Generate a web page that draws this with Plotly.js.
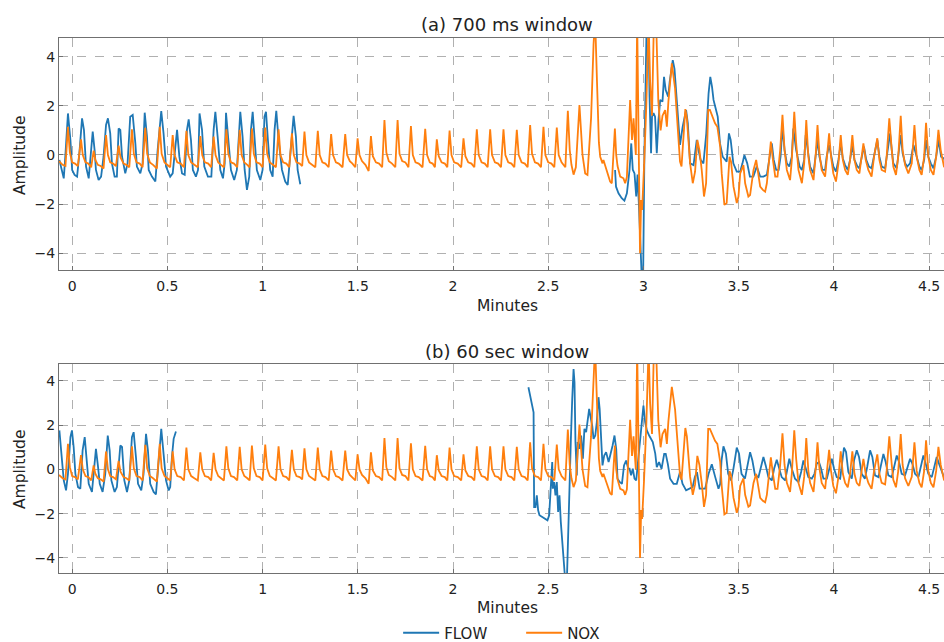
<!DOCTYPE html>
<html>
<head>
<meta charset="utf-8">
<script src="https://cdn.plot.ly/plotly-3.0.1.min.js"></script>
<style>
html,body{margin:0;padding:0;overflow:hidden;background:#fff;}
#chart{width:960px;height:642px;}
</style>
</head>
<body>
<div id="chart"></div>
<script>
// ---- NOX (shared by both panels), minutes / amplitude ----
const noxMin = [
-0.069,-0.05,-0.035,
-0.022,-0.012,0.0,0.015,0.03,
0.0465,0.056,0.07,0.085,0.1,
0.113,0.122,0.135,0.15,0.165,
0.178,0.188,0.2,0.215,0.23,
0.244,0.254,0.27,0.285,0.3,
0.314,0.324,0.338,0.355,0.37,
0.384,0.394,0.408,0.425,0.445,
0.46,0.47,0.485,0.5,0.515,
0.528,0.538,0.552,0.57,0.587,
0.6,0.61,0.625,0.642,0.66,
0.673,0.683,0.697,0.715,0.73,
0.743,0.753,0.767,0.782,0.797,
0.81,0.82,0.834,0.85,0.867,
0.88,0.89,0.904,0.92,0.932,
0.944,0.954,0.968,0.985,1.0,
1.014,1.024,1.038,1.055,1.07,
1.084,1.094,1.108,1.125,1.14,
1.154,1.164,1.178,1.195,1.208,
1.22,1.23,1.244,1.26,1.277,
1.29,1.3,1.314,1.33,1.347,
1.36,1.37,1.385,1.4,1.42,
1.434,1.444,1.458,1.472,1.487,
1.499,1.509,1.522,1.54,1.557,
1.569,1.579,1.595,1.612,1.628,
1.64,1.65,1.663,1.68,1.697,
1.709,1.719,1.733,1.75,1.766,
1.779,1.789,1.803,1.82,1.84,
1.854,1.864,1.878,1.893,1.905,
1.915,1.925,1.94,1.957,1.97,
1.982,1.992,2.006,2.025,2.043,
2.055,2.065,2.08,2.097,2.112,
2.125,2.135,2.15,2.167,2.182,
2.195,2.205,2.22,2.237,2.252,
2.265,2.275,2.29,2.307,2.322,
2.335,2.345,2.36,2.377,2.392,
2.405,2.415,2.43,2.447,2.462,
2.475,2.485,2.5,2.517,2.532,
2.545,2.555,2.57,2.59,
2.603,2.613,2.622,2.633,2.645,
2.664,2.68,2.694,2.706,2.725,
2.738,2.746,2.756,2.766,2.773,
2.785,2.79,2.8,2.815,2.825,2.834,
2.85,2.857,2.864,2.878,2.895,2.904,2.913,
2.93,2.94,2.948,2.955,2.96,2.967,2.975,2.982,2.988,2.993,
3.003,3.015,3.027,3.035,3.045,3.055,3.068,3.078,3.09,3.1,
3.114,3.123,3.131,3.149,3.166,3.179,3.192,3.2,
3.22,3.228,3.245,3.259,3.271,3.283,3.294,3.306,3.318,3.329,
3.34,3.349,3.358,3.376,3.388,3.403,3.411,3.425,3.437,
3.452,3.46,3.473,3.49,3.499,3.508,3.525,3.534,3.551,3.56,
3.578,3.592,3.601,3.613,3.627,3.639,3.648,
3.66,3.669,3.68,3.692,3.704,
3.718,3.73,3.741,3.753,3.77,
3.779,3.792,3.802,3.814,3.832,
3.844,3.855,3.866,3.875,3.893,
3.905,3.914,3.924,3.936,3.954,
3.962,3.975,3.985,3.997,4.011,
4.024,4.036,4.047,4.059,4.073,
4.085,4.097,4.108,4.12,4.134,
4.146,4.155,4.167,4.181,4.198,
4.211,4.228,4.239,4.251,4.269,
4.277,4.291,4.304,4.312,4.326,
4.338,4.351,4.361,4.374,4.391,
4.409,4.423,4.435,4.449,4.461,
4.474,4.484,4.496,4.509,4.523,
4.537,4.549,4.561,4.578,4.595,
4.61,4.618,4.63,4.64
];
const noxAmp = [
-0.25,-0.4,-0.45,
1.15,0.1,-0.3,-0.35,-0.45,
0.64,0.0,-0.3,-0.35,-0.5,
0.18,-0.2,-0.4,-0.45,-0.55,
0.81,0.0,-0.3,-0.35,-0.45,
0.38,-0.1,-0.35,-0.4,-0.5,
1.04,0.05,-0.3,-0.35,-0.5,
1.11,0.05,-0.3,-0.4,-0.55,
1.15,0.05,-0.3,-0.4,-0.5,
0.81,0.0,-0.3,-0.35,-0.5,
0.98,0.0,-0.3,-0.4,-0.5,
0.77,0.0,-0.3,-0.35,-0.5,
0.75,0.0,-0.3,-0.4,-0.5,
1.04,0.05,-0.3,-0.35,-0.5,
1.02,0.0,-0.3,-0.4,-0.5,
1.08,0.05,-0.3,-0.35,-0.5,
1.12,0.05,-0.3,-0.4,-0.5,
1.04,0.0,-0.3,-0.35,-0.5,
0.88,0.0,-0.3,-0.35,-0.45,
0.95,0.0,-0.3,-0.4,-0.5,
0.98,0.0,-0.3,-0.35,-0.5,
0.85,0.0,-0.3,-0.35,-0.5,
0.85,0.0,-0.25,-0.35,-0.5,
0.68,0.0,-0.25,-0.4,-0.65,
0.77,-0.05,-0.3,-0.35,-0.5,
1.42,0.1,-0.25,-0.35,-0.5,
1.42,0.05,-0.25,-0.3,-0.5,
1.18,0.0,-0.3,-0.35,-0.5,
1.07,0.0,-0.3,-0.35,-0.5,
0.64,-0.05,-0.3,-0.35,-0.5,
0.99,0.0,-0.3,-0.35,-0.5,
0.68,-0.05,-0.3,-0.35,-0.5,
1.04,0.0,-0.3,-0.35,-0.5,
1.04,0.0,-0.3,-0.35,-0.5,
1.04,0.0,-0.3,-0.35,-0.5,
1.02,0.0,-0.3,-0.35,-0.5,
1.22,0.05,-0.3,-0.35,-0.5,
1.15,0.0,-0.3,-0.35,-0.5,
1.12,0.0,-0.3,-0.5,
1.80,0.2,-0.4,-0.8,-0.5,
2.03,0.0,-0.75,-0.81,1.5,
4.5,5.6,3.0,0.5,-0.07,
-0.34,-0.2,-0.45,-0.9,-1.08,-1.15,
1.08,0.0,-0.45,-0.88,-0.95,-1.15,-0.9,
2.24,0.61,1.49,0.61,0.0,5.5,-1.0,-4.0,-1.83,-2.24,
-0.5,2.0,5.5,3.0,1.6,5.5,5.0,2.2,1.0,1.6,
1.83,1.15,2.17,3.73,2.71,1.02,-0.27,-0.47,
1.87,1.49,-0.34,-1.15,-0.68,0.61,0.2,-0.61,-1.69,-1.15,
1.83,1.83,1.63,1.29,1.15,0.34,-0.75,-2.03,-1.96,
-0.07,-0.27,-1.29,-1.96,-1.69,-0.75,-0.41,-1.15,-1.69,-1.63,
-0.61,-0.2,-0.75,-1.29,-1.42,-1.49,-1.15,
-0.07,0.54,-0.2,-0.88,-0.88,
0.2,1.63,0.2,-0.61,-1.02,
-0.2,1.76,0.47,-0.61,-1.15,
-0.34,1.42,-0.07,-0.61,-1.02,
0.07,1.22,0.07,-0.61,-0.88,
-0.2,0.88,-0.07,-0.75,-1.08,
-0.34,0.81,-0.2,-0.61,-0.81,
-0.2,0.81,-0.2,-0.61,-0.75,
-0.07,0.47,-0.2,-0.61,-0.88,
-0.07,0.68,-0.2,-0.61,-0.68,
-0.07,1.49,0.2,-0.47,-0.81,
-0.07,1.59,0.2,-0.41,-0.75,
-0.34,1.22,-0.07,-0.61,-0.81,
-0.07,1.31,-0.07,-0.61,-0.81,
-0.07,1.02,0.2,-0.47,-0.5,
0.3,1.0,0.0,-0.3
];

// ---- FLOW, panel (a) 700 ms window ----
const flowA1Min = [
-0.067,-0.053,-0.044,-0.036,-0.022,-0.009,0.0,0.013,0.026,0.038,
0.052,0.062,0.073,0.087,0.095,0.108,0.118,0.125,0.139,0.152,
0.165,0.178,0.188,0.2,0.209,0.223,0.235,0.244,0.253,0.262,
0.279,0.291,0.305,0.318,0.332,0.34,0.358,0.37,0.381,0.393,
0.402,0.419,0.437,0.449,0.468,0.48,0.493,0.515,0.528,0.542,
0.551,0.563,0.577,0.591,0.603,0.612,0.624,0.634,0.65,0.661,
0.669,0.682,0.694,0.713,0.731,0.743,0.752,0.764,0.778,0.792,
0.801,0.808,0.822,0.834,0.851,0.865,0.883,0.895,0.906,0.918,
0.93,0.939,0.948,0.958,0.97,0.988,1.0,1.01,1.018,1.028,
1.04,1.053,1.063,1.072,1.084,1.102,1.119,1.132,1.145,1.163,
1.175,1.184,1.198
];
const flowA1Amp = [
-0.2,-0.61,-0.95,-0.07,1.69,0.61,-0.61,-0.81,-0.88,0.07,
1.49,1.02,-0.47,-0.95,-0.34,0.95,0.2,-0.61,-1.02,-0.88,
-0.07,1.22,1.49,0.88,-0.34,-0.88,-0.88,1.08,1.02,-0.07,
-0.75,-0.34,1.56,1.63,0.47,-0.47,-0.75,-0.34,1.72,0.75,
-0.61,-0.88,-1.08,0.2,1.79,0.88,-0.47,-0.88,-0.75,0.47,
1.02,-0.07,-0.75,-0.81,1.02,1.45,0.61,-0.61,-0.88,-0.61,
1.69,1.02,-0.47,-0.88,-0.88,1.02,1.76,0.75,-0.61,-0.95,
-0.34,1.72,0.61,-0.61,-1.02,-0.61,1.76,0.75,-0.61,-1.42,
-0.88,1.02,1.76,0.61,-0.61,-1.02,-0.61,1.56,1.76,0.61,
-0.61,-0.88,1.02,1.8,0.61,-0.61,-1.08,-1.22,-0.07,1.59,
0.75,-0.61,-1.19
];
const flowA2Min = [
2.851,2.856,2.869,2.886,2.9,2.913,2.927,2.936,2.944,2.953,
2.962,2.969,2.976,2.983,2.992,2.998,3.005,3.017,3.026,3.032,
3.04,3.045,3.053,3.061,3.07,3.079,3.088,3.1,3.108,3.117,
3.13,3.138,3.154,3.163,3.175,3.184,3.192,3.206,3.224,3.233,
3.245,3.263,3.28,3.289,3.3,3.315,3.33,3.342,3.351,3.36,
3.368,3.377,3.39,3.402,3.416,3.437,3.449,3.458,3.472,3.49,
3.508,3.52,3.53,3.545,3.559,3.577,3.595,3.613,3.63,3.648,
3.66,3.674,3.684,3.697,3.71,3.72,3.73,3.741,3.753,3.766,
3.779,3.787,3.802,3.82,3.832,3.844,3.852,3.866,3.875,3.893,
3.905,3.914,3.924,3.94,3.954,3.962,3.975,3.985,3.997,4.011,
4.024,4.036,4.047,4.059,4.073,4.085,4.097,4.108,4.124,4.134,
4.146,4.158,4.17,4.184,4.198,4.211,4.228,4.239,4.251,4.269,
4.277,4.295,4.304,4.312,4.33,4.338,4.351,4.361,4.374,4.385,
4.4,4.418,4.435,4.449,4.461,4.474,4.484,4.496,4.509,4.523,
4.537,4.55,4.563,4.578,4.595,4.61,4.62,4.63,4.64
];
const flowA2Amp = [
-0.61,-1.29,-1.56,-1.76,-1.86,-1.56,-0.6,0.47,-0.6,-0.75,
-1.69,-0.8,-2.0,-4.1,-5.2,-5.2,0.0,5.5,5.5,2.37,
0.07,1.56,1.7,1.56,0.07,1.42,2.24,2.17,3.18,2.64,
2.37,3.0,3.86,3.5,2.37,1.29,0.41,1.15,1.83,1.29,
-0.34,-0.41,0.61,0.2,-0.2,-0.34,0.88,2.51,3.18,2.78,
2.24,1.96,1.56,0.47,-0.07,-0.27,0.88,0.61,-0.34,-0.68,
-0.68,-0.34,0.0,-0.34,-0.88,-0.88,-0.47,-0.88,-0.88,-0.81,
-0.2,0.47,-0.2,-0.61,-0.61,-0.07,1.15,0.2,-0.34,-0.47,
-0.07,1.08,0.2,-0.47,-0.61,-0.2,0.81,-0.07,-0.47,-0.75,
-0.07,0.61,-0.07,-0.61,-0.61,-0.07,0.41,-0.07,-0.47,-0.68,
-0.2,0.47,-0.14,-0.41,-0.61,-0.2,0.41,-0.2,-0.47,-0.54,
-0.07,0.34,-0.2,-0.47,-0.54,-0.07,0.61,-0.07,-0.47,-0.54,
-0.07,0.88,0.2,-0.34,-0.54,-0.07,0.81,0.07,-0.34,-0.47,
-0.34,0.41,-0.07,-0.47,-0.61,-0.2,0.61,-0.07,-0.34,-0.54,
-0.07,0.61,-0.07,-0.14,-0.5,-0.1,0.5,0.0,-0.3
];

// ---- FLOW, panel (b) 60 sec window ----
const flowB1Min = [
-0.067,-0.057,-0.044,-0.032,-0.022,-0.009,-0.001,0.008,0.017,0.031,
0.043,0.055,0.066,0.078,0.087,0.104,0.118,0.125,0.136,0.145,
0.16,0.174,0.187,0.197,0.206,0.223,0.235,0.253,0.262,0.274,
0.288,0.3,0.314,0.323,0.335,0.346,0.363,0.375,0.388,0.398,
0.41,0.428,0.44,0.454,0.468,0.48,0.493,0.507,0.515,0.524,
0.533,0.545
];
const flowB1Amp = [
1.76,0.86,-0.5,-0.95,-0.2,1.46,1.76,1.01,-0.2,-0.8,
-0.87,0.86,1.46,0.26,-0.65,-1.02,0.11,0.93,0.11,-0.65,
-1.02,-0.2,1.53,0.86,-0.5,-1.02,-0.8,1.08,1.01,-0.5,
-1.02,-0.5,1.46,1.68,0.56,-0.65,-0.95,-0.2,1.61,0.86,
-0.65,-1.02,-1.13,0.41,1.83,0.71,-0.5,-0.95,-0.8,0.56,
1.38,1.71
];
const flowB2Min = [
2.396,2.409,2.416,2.423,2.426,2.433,2.44,2.447,2.454,2.466,
2.484,2.496,2.505,2.514,2.521,2.524,2.531,2.538,2.545,2.552,
2.559,2.566,2.573,2.58,2.589,2.598,2.603,2.61,2.619,2.626,
2.633,2.638,2.643,2.65,2.655,2.664,2.673,2.682,2.69,2.699,
2.706,2.715,2.724,2.731,2.738,2.747,2.755,2.764,2.77,2.777,
2.785,2.794,2.804,2.817,2.826,2.838,2.848,2.857,2.864,2.875,
2.887,2.898,2.909,2.92,2.927,2.935,2.944,2.953,2.962,2.97,
2.979,2.988,3.0,3.009,3.018,3.03,3.04,3.049,3.062,3.07,
3.082,3.095,3.109,3.117,3.128,3.14,3.158,3.175,3.192,3.205,
3.224,3.245,3.258,3.27,3.281,3.295,3.324,3.342,3.359,3.377,
3.394,3.403,3.41,3.42,3.433,3.445,3.46,3.472,3.49,3.502,
3.515,3.533,3.546,3.56,3.572,3.586,3.604,3.616,3.63,3.642,
3.656,3.674,3.686,3.7,3.712,3.726,3.744,3.756,3.766,3.779,
3.796,3.814,3.828,3.84,3.852,3.866,3.884,3.898,3.91,3.922,
3.933,3.945,3.963,3.977,3.989,4.001,4.015,4.033,4.045,4.053,
4.064,4.076,4.094,4.106,4.12,4.132,4.146,4.163,4.175,4.19,
4.202,4.216,4.234,4.246,4.26,4.272,4.286,4.304,4.316,4.33,
4.342,4.356,4.374,4.386,4.4,4.412,4.426,4.444,4.456,4.47,
4.482,4.496,4.514,4.528,4.54,4.552,4.566,4.578,4.6,4.615,
4.625,4.64
];
const flowB2Amp = [
3.71,3.18,2.88,2.58,-1.7,-1.7,-1.17,-1.85,-2.07,-2.14,
-2.22,-2.3,-2.07,-0.57,0.33,-0.87,-0.57,-1.17,-0.57,-1.92,
-1.17,-2.37,-3.27,-4.47,-5.0,-5.0,-3.27,-0.87,1.38,3.18,
4.53,3.93,1.23,-0.27,1.23,0.93,1.53,0.48,1.83,1.68,
2.13,2.73,2.28,1.98,1.38,1.53,2.13,3.26,2.73,1.23,
0.18,0.63,0.78,0.33,0.63,1.08,1.53,0.93,-0.42,-0.57,
-0.65,0.18,0.4,0.03,0.03,-0.27,0.03,-0.42,-0.5,0.18,
0.93,1.98,2.88,2.13,1.76,1.53,1.38,1.23,0.71,0.1,
0.33,0.03,0.7,0.7,0.25,-0.42,-0.65,-0.65,-0.12,-0.65,
-0.95,-0.87,-0.8,-0.35,-0.12,-0.87,-0.87,-0.2,0.23,-0.35,
-0.87,-0.65,0.4,1.04,0.71,-0.2,-0.5,0.0,0.98,0.71,
-0.2,-0.42,0.11,0.78,0.4,-0.27,-0.35,0.11,0.56,0.18,
-0.35,-0.5,0.03,0.44,0.11,-0.35,-0.5,0.03,0.48,0.03,
-0.42,-0.57,-0.12,0.4,0.03,-0.35,-0.42,-0.2,0.26,0.33,
0.03,-0.42,-0.42,0.03,0.48,0.03,-0.35,-0.42,0.41,0.98,
0.78,-0.12,-0.42,0.41,0.86,0.56,-0.2,-0.42,0.11,0.86,
0.56,-0.27,-0.35,0.18,0.7,0.33,-0.27,-0.35,0.11,0.63,
0.33,-0.2,-0.27,0.11,0.48,0.26,-0.2,-0.35,0.11,0.63,
0.26,-0.2,-0.35,0.11,0.56,0.26,-0.12,-0.35,-0.3,0.4,
0.1,-0.3
];

const yTicks = [-4, -2, 0, 2, 4];
const panelTitles = ['(a) 700 ms window', '(b) 60 sec window'];
const seriesNames = ['FLOW', 'NOX'];

const BLUE = '#1f77b4', ORANGE = '#ff7f0e';
const FONT = 'DejaVu Sans, sans-serif';
const LW = 1.8;

function join(a, b) { return a.concat([null], b); }

const traces = [
  {x: join(flowA1Min, flowA2Min), y: join(flowA1Amp, flowA2Amp), xaxis: 'x', yaxis: 'y',
   name: seriesNames[0], mode: 'lines', line: {color: BLUE, width: LW}, connectgaps: false},
  {x: noxMin, y: noxAmp, xaxis: 'x', yaxis: 'y',
   name: seriesNames[1], mode: 'lines', line: {color: ORANGE, width: LW}},
  {x: join(flowB1Min, flowB2Min), y: join(flowB1Amp, flowB2Amp), xaxis: 'x2', yaxis: 'y2',
   name: seriesNames[0], mode: 'lines', line: {color: BLUE, width: LW}, connectgaps: false, showlegend: false},
  {x: noxMin, y: noxAmp, xaxis: 'x2', yaxis: 'y2',
   name: seriesNames[1], mode: 'lines', line: {color: ORANGE, width: LW}, showlegend: false}
];

const H = 642;
function py(p) { return 1 - p / H; }

const axisCommon = {
  showgrid: true, gridcolor: '#b0b0b0', griddash: 'dash', gridwidth: 1,
  showline: true, linecolor: '#707070', linewidth: 1, mirror: true,
  zeroline: false, ticks: 'inside', ticklen: 4, tickcolor: '#707070',
  tickfont: {family: FONT, size: 14, color: '#222'}
};
const xCommon = Object.assign({}, axisCommon, {range: [-0.069, 4.636], tick0: 0, dtick: 0.5, ticklabelstandoff: 3});
const yCommon = Object.assign({}, axisCommon, {range: [-4.68, 4.76], tickvals: yTicks});

const layout = {
  width: 960, height: H,
  margin: {l: 59, r: 5, t: 0, b: 0, autoexpand: false},
  paper_bgcolor: '#fff', plot_bgcolor: '#fff',
  font: {family: FONT, color: '#222'},
  showlegend: true,
  legend: {orientation: 'h', x: 0.3785, xanchor: 'left', y: py(633), yanchor: 'middle',
           font: {family: FONT, size: 15, color: '#222'}, itemwidth: 36,
           entrywidth: 72, entrywidthmode: 'pixels',
           bgcolor: 'rgba(0,0,0,0)'},
  xaxis: Object.assign({}, xCommon, {anchor: 'y', domain: [0, 1]}),
  yaxis: Object.assign({}, yCommon, {anchor: 'x', domain: [py(270), py(38)]}),
  xaxis2: Object.assign({}, xCommon, {anchor: 'y2', domain: [0, 1]}),
  yaxis2: Object.assign({}, yCommon, {anchor: 'x2', domain: [py(573), py(364)]}),
  annotations: [
    {text: panelTitles[0], xref: 'paper', yref: 'paper', x: 0.5, y: py(24), xanchor: 'center', yanchor: 'middle', showarrow: false, font: {family: FONT, size: 18, color: '#222'}},
    {text: panelTitles[1], xref: 'paper', yref: 'paper', x: 0.5, y: py(351), xanchor: 'center', yanchor: 'middle', showarrow: false, font: {family: FONT, size: 18, color: '#222'}},
    {text: 'Minutes', xref: 'paper', yref: 'paper', x: 0.5, y: py(306), xanchor: 'center', yanchor: 'middle', showarrow: false, font: {family: FONT, size: 15.5, color: '#222'}},
    {text: 'Minutes', xref: 'paper', yref: 'paper', x: 0.5, y: py(608), xanchor: 'center', yanchor: 'middle', showarrow: false, font: {family: FONT, size: 15.5, color: '#222'}},
    {text: 'Amplitude', xref: 'paper', yref: 'paper', x: (20 - 59) / 896, y: py(156), xanchor: 'center', yanchor: 'middle', textangle: -90, showarrow: false, font: {family: FONT, size: 15.5, color: '#222'}},
    {text: 'Amplitude', xref: 'paper', yref: 'paper', x: (20 - 59) / 896, y: py(470), xanchor: 'center', yanchor: 'middle', textangle: -90, showarrow: false, font: {family: FONT, size: 15.5, color: '#222'}}
  ]
};

Plotly.newPlot('chart', traces, layout, {displayModeBar: false, staticPlot: true});
</script>
</body>
</html>
